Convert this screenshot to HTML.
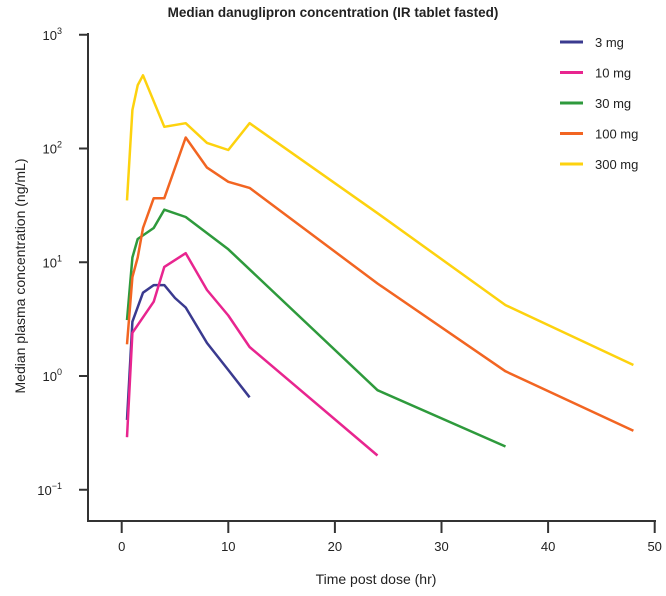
<!DOCTYPE html>
<html><head><meta charset="utf-8"><style>
body{margin:0;background:#fff;font-family:"Liberation Sans",sans-serif}
svg text{font-family:"Liberation Sans",sans-serif;fill:#222}
</style></head><body>
<svg id="c" width="666" height="591" xmlns="http://www.w3.org/2000/svg">
<text x="333" y="17" text-anchor="middle" font-weight="bold" font-size="13.5">Median danuglipron concentration (IR tablet fasted)</text>
<text x="376" y="584" text-anchor="middle" font-size="14">Time post dose (hr)</text>
<text transform="translate(25,276) rotate(-90)" text-anchor="middle" font-size="14">Median plasma concentration (ng/mL)</text>
<g id="axes"></g><g id="series"></g><g id="legend"></g>
</svg>
<script>
const xTicks=[0,10,20,30,40,50];
const yTickExp=[3,2,1,0,-1];
const seriesNames=["3 mg","10 mg","30 mg","100 mg","300 mg"];
const seriesColors=["#3a3a8f","#e8258f","#2e9a3c","#f26522","#fdd20e"];
const t3=[0.5,1,2,3,4,5,6,8,10,12];
const v3=[0.41,3.0,5.4,6.3,6.3,4.85,4.0,1.95,1.13,0.65];
const t10=[0.5,1,3,4,6,8,10,12,24];
const v10=[0.29,2.4,4.5,9.1,12.0,5.7,3.4,1.8,0.2];
const t30=[0.5,1,1.5,3,4,6,10,24,36];
const v30=[3.1,11,16,20,29,25,13,0.75,0.24];
const t100=[0.5,1,1.5,2,3,4,6,8,10,12,24,36,48];
const v100=[1.9,7.4,11,20,36.6,36.6,125,68,51,45,6.5,1.1,0.33];
const t300=[0.5,1,1.5,2,4,6,8,10,12,24,36,48];
const v300=[35,218,360,440,155,167,112,97,167,27,4.2,1.25];
const times=[t3,t10,t30,t100,t300], vals=[v3,v10,v30,v100,v300];
const NS="http://www.w3.org/2000/svg";
const X=t=>121.7+t*10.66;
const Y=v=>376-Math.log10(v)*113.75;
function mk(tag,attrs,parent){const e=document.createElementNS(NS,tag);for(const k in attrs)e.setAttribute(k,attrs[k]);parent.appendChild(e);return e;}
const axes=document.getElementById('axes');
let e=mk('path',{d:'M88,33 V521 H656',fill:'none',stroke:'#333','stroke-width':2},axes);


xTicks.forEach(t=>{
 let l=mk('line',{x1:X(t),x2:X(t),y1:521,y2:533,stroke:'#333','stroke-width':2},axes);
 
 
 let tx=mk('text',{x:X(t),y:551,'text-anchor':'middle','font-size':13},axes);tx.textContent=t;
 
 
});
yTickExp.forEach(p=>{
 const y=Y(Math.pow(10,p));
 let l=mk('line',{x1:79,x2:88,y1:y,y2:y,stroke:'#333','stroke-width':2},axes);
 
 
 let tx=mk('text',{x:62,y:y+5,'text-anchor':'end','font-size':13},axes);
 
 
 tx.textContent='10';
 let s=mk('tspan',{dy:-6,'font-size':9},tx);s.textContent=p<0?'\u2212'+(-p):p;
});
const sg=document.getElementById('series'), lg=document.getElementById('legend');
times.forEach((ts,i)=>{
 const d=ts.map((t,j)=>(j?'L':'M')+X(t).toFixed(1)+','+Y(vals[i][j]).toFixed(1)).join(' ');
 let p=mk('path',{d:d,fill:'none',stroke:seriesColors[i],'stroke-width':2.5,'stroke-linejoin':'round'},sg);
 
 
 const ly=42+i*30.5;
 let g=mk('g',{},lg);
 
 
 mk('line',{x1:560,x2:583,y1:ly,y2:ly,stroke:seriesColors[i],'stroke-width':3},g);
 let tx=mk('text',{x:595,y:ly+5,'font-size':13},g);tx.textContent=seriesNames[i];
});
</script>
</body></html>
